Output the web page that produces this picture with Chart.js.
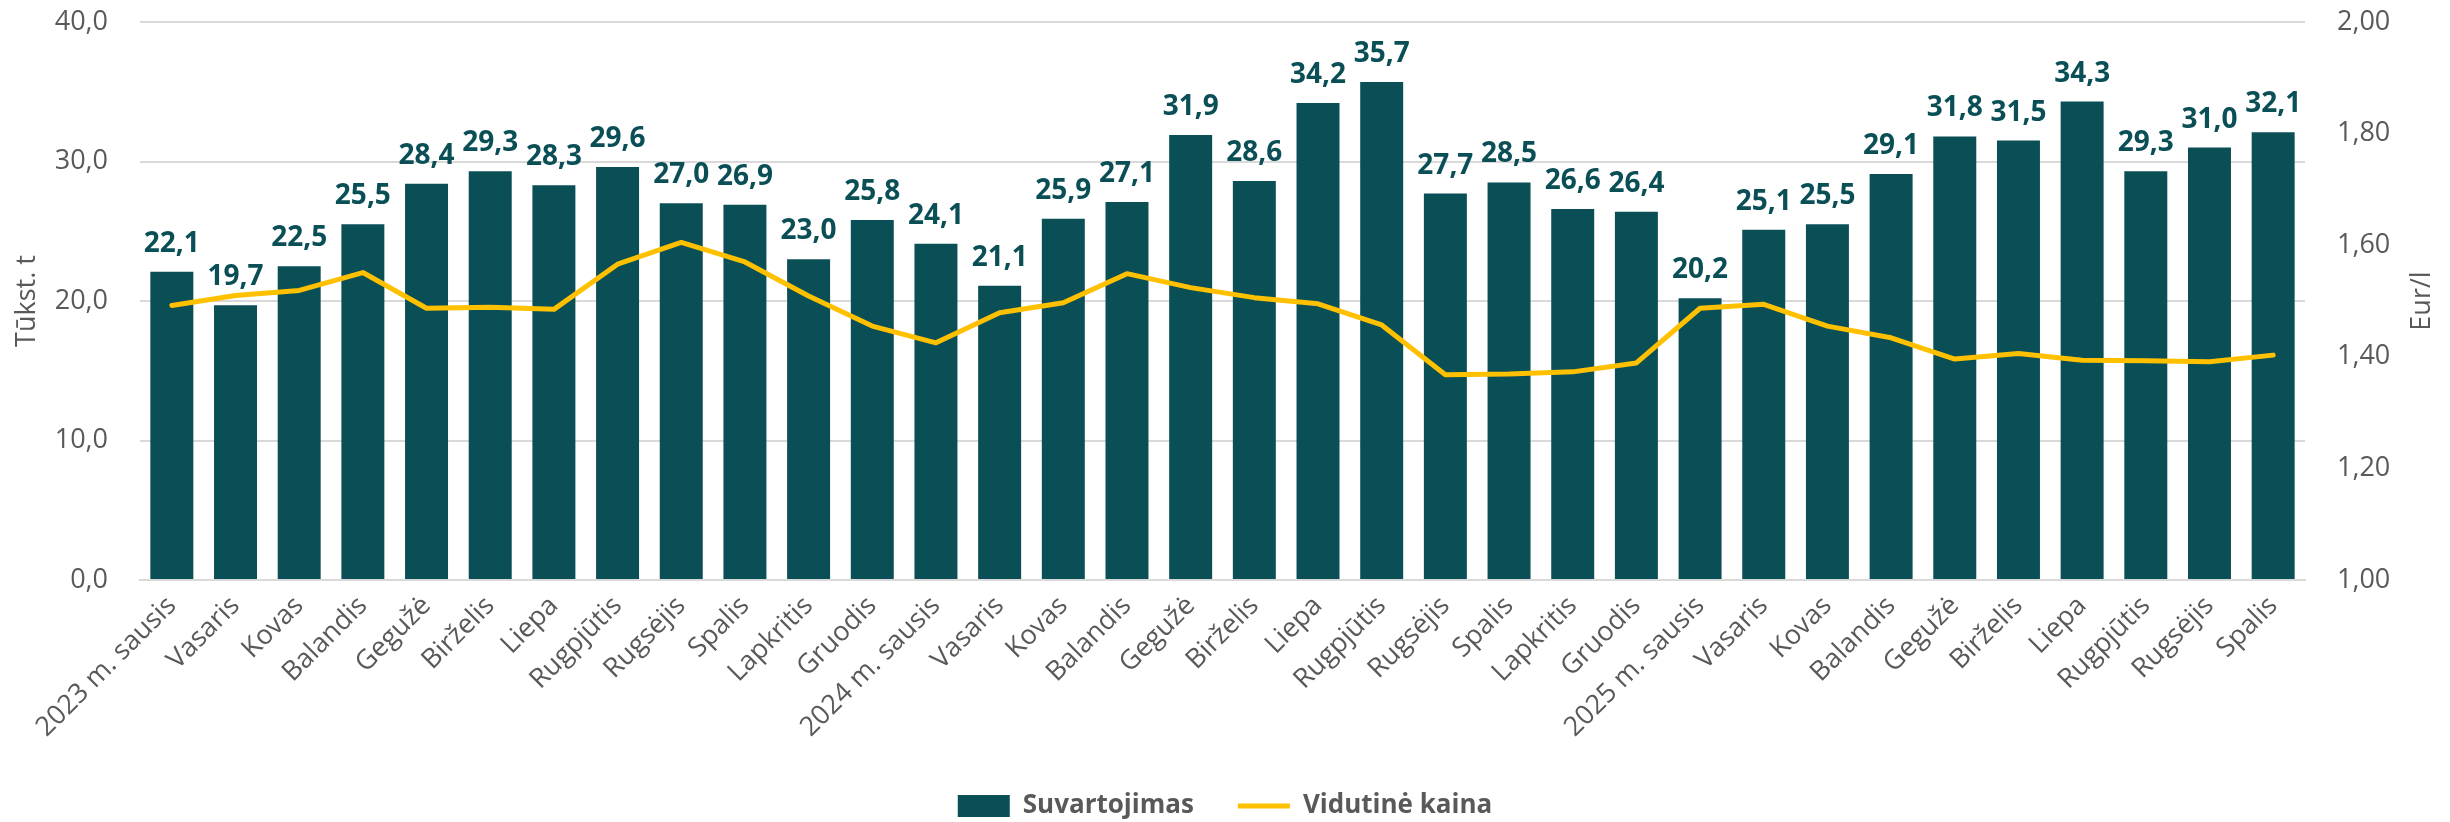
<!DOCTYPE html>
<html>
<head>
<meta charset="utf-8">
<script src="https://cdn.jsdelivr.net/npm/chart.js@4/dist/chart.umd.min.js"></script>
<style>
  html, body { margin: 0; padding: 0; background: #ffffff; }
  #wrap { width: 2450px; height: 822px; }
</style>
</head>
<body>
<div id="wrap"><canvas id="c" width="2450" height="822"></canvas></div>
<script>
const categories = [
  '2023 m. sausis', 'Vasaris', 'Kovas', 'Balandis', 'Gegužė', 'Birželis', 'Liepa', 'Rugpjūtis', 'Rugsėjis', 'Spalis', 'Lapkritis', 'Gruodis',
  '2024 m. sausis', 'Vasaris', 'Kovas', 'Balandis', 'Gegužė', 'Birželis', 'Liepa', 'Rugpjūtis', 'Rugsėjis', 'Spalis', 'Lapkritis', 'Gruodis',
  '2025 m. sausis', 'Vasaris', 'Kovas', 'Balandis', 'Gegužė', 'Birželis', 'Liepa', 'Rugpjūtis', 'Rugsėjis', 'Spalis'
];
const consumption = [
  22.1, 19.7, 22.5, 25.5, 28.4, 29.3, 28.3, 29.6, 27.0, 26.9, 23.0, 25.8,
  24.1, 21.1, 25.9, 27.1, 31.9, 28.6, 34.2, 35.7, 27.7, 28.5, 26.6, 26.4,
  20.2, 25.1, 25.5, 29.1, 31.8, 31.5, 34.3, 29.3, 31.0, 32.1
];
const avgPrice = [
  1.492, 1.510, 1.519, 1.551, 1.487, 1.489, 1.485, 1.566, 1.605, 1.570, 1.509, 1.455,
  1.425, 1.479, 1.497, 1.549, 1.524, 1.506, 1.495, 1.457, 1.368, 1.369, 1.373, 1.389,
  1.487, 1.494, 1.455, 1.434, 1.396, 1.406, 1.394, 1.393, 1.391, 1.403
];
const seriesNames = ['Suvartojimas', 'Vidutinė kaina'];
const leftTitle = 'Tūkst. t';
const rightTitle = 'Eur/l';

const FONT = '"Open Sans", "DejaVu Sans", sans-serif';
const GRAY = '#595959';
const TEAL = '#0A4F56';
const GOLD = '#FFC000';
const LEGEND_PAD = 44;
const LEGEND_FONT = 26;
const LEGEND_H = 36;

const comma = (v, d) => v.toFixed(d).replace('.', ',');

const valueLabels = {
  id: 'valueLabels',
  afterDatasetsDraw(chart) {
    const meta = chart.getDatasetMeta(0);
    const ctx = chart.ctx;
    ctx.save();
    ctx.font = 'bold 28px ' + FONT;
    ctx.fillStyle = TEAL;
    ctx.textAlign = 'center';
    ctx.textBaseline = 'alphabetic';
    meta.data.forEach((bar, i) => {
      ctx.fillText(comma(consumption[i], 1), bar.x, bar.y - 20);
    });
    ctx.restore();
  }
};

const rightTitlePlugin = {
  id: 'rightTitle',
  afterDraw(chart) {
    const ctx = chart.ctx;
    const a = chart.chartArea;
    ctx.save();
    ctx.font = '27px ' + FONT;
    ctx.fillStyle = GRAY;
    ctx.textAlign = 'center';
    ctx.textBaseline = 'middle';
    ctx.translate(2422, (a.top + a.bottom) / 2);
    ctx.rotate(-Math.PI / 2);
    ctx.fillText(rightTitle, 0, 0);
    ctx.restore();
  }
};

// place the legend row so its items are centred at y = 806
const legendShift = {
  id: 'legendShift',
  afterLayout(chart) {
    const lg = chart.legend;
    if (!lg) return;
    lg.top = 806 - LEGEND_PAD - LEGEND_FONT / 2;
    lg.bottom = 822;
    lg.height = lg.bottom - lg.top;
  }
};

const noVertPad = (scale) => { scale.paddingTop = 0; scale.paddingBottom = 0; };

new Chart(document.getElementById('c'), {
  data: {
    labels: categories,
    datasets: [
      {
        type: 'bar',
        label: seriesNames[0],
        data: consumption,
        backgroundColor: TEAL,
        borderWidth: 0,
        yAxisID: 'y',
        order: 2,
        categoryPercentage: 1.0,
        barPercentage: 0.675,
        pointStyle: 'rect'
      },
      {
        type: 'line',
        label: seriesNames[1],
        data: avgPrice,
        borderColor: GOLD,
        backgroundColor: GOLD,
        borderWidth: 5,
        pointRadius: 0,
        tension: 0,
        borderCapStyle: 'round',
        borderJoinStyle: 'round',
        yAxisID: 'y1',
        order: 1,
        pointStyle: 'line'
      }
    ]
  },
  options: {
    responsive: false,
    animation: false,
    devicePixelRatio: 1,
    layout: { padding: { top: 22, left: 0, right: 0, bottom: 0 } },
    plugins: {
      tooltip: { enabled: false },
      legend: {
        position: 'bottom',
        align: 'center',
        maxHeight: LEGEND_H,
        labels: {
          usePointStyle: true,
          pointStyleWidth: 52,
          boxHeight: 22,
          padding: LEGEND_PAD,
          color: GRAY,
          font: { family: FONT, size: LEGEND_FONT, weight: 'bold' },
          sort: (a, b) => a.datasetIndex - b.datasetIndex
        }
      }
    },
    scales: {
      x: {
        grid: { display: false, drawTicks: false },
        border: { display: true, color: '#D9D9D9', width: 2 },
        ticks: {
          autoSkip: false,
          minRotation: 45,
          maxRotation: 45,
          padding: 10,
          color: GRAY,
          font: { family: FONT, size: 27 }
        },
        afterFit(scale) {
          const lg = scale.chart.legend;
          const lh = lg ? lg.height : LEGEND_H;
          scale.height = 822 - 580 - lh;
        }
      },
      y: {
        position: 'left',
        min: 0,
        max: 40,
        grid: { color: '#D9D9D9', lineWidth: 2, drawTicks: false },
        border: { display: false },
        ticks: {
          stepSize: 10,
          padding: 32,
          color: GRAY,
          font: { family: FONT, size: 27 },
          callback: (v) => comma(v, 1)
        },
        title: {
          display: true,
          text: leftTitle,
          color: GRAY,
          padding: { top: 11, bottom: 0 },
          font: { family: FONT, size: 27 }
        },
        afterFit(scale) { scale.width = 140; noVertPad(scale); }
      },
      y1: {
        position: 'right',
        min: 1,
        max: 2,
        grid: { display: false, drawTicks: false },
        border: { display: false },
        ticks: {
          stepSize: 0.2,
          padding: 32,
          color: GRAY,
          font: { family: FONT, size: 27 },
          callback: (v) => comma(v, 2)
        },
        afterFit(scale) { scale.width = 145; noVertPad(scale); }
      }
    }
  },
  plugins: [valueLabels, rightTitlePlugin, legendShift]
});
</script>
</body>
</html>
